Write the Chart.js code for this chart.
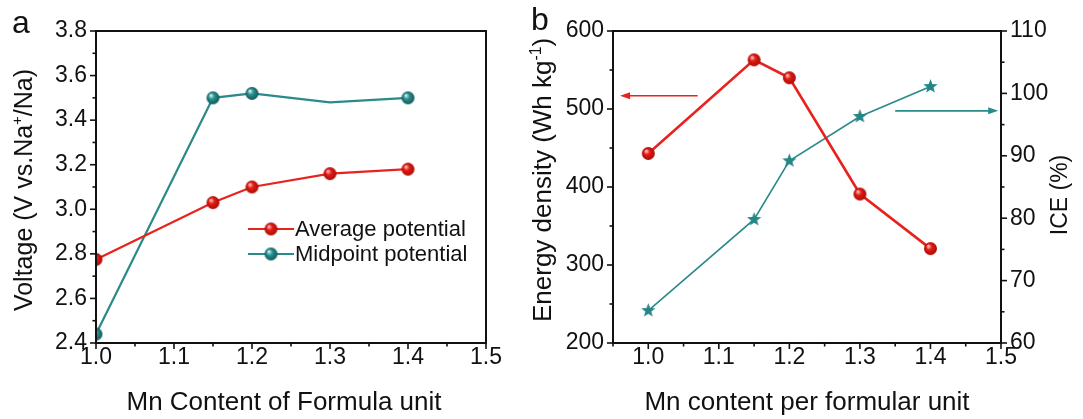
<!DOCTYPE html>
<html>
<head>
<meta charset="utf-8">
<script src="https://cdn.jsdelivr.net/npm/chart.js@4.4.1/dist/chart.umd.min.js"></script>
<style>
  html, body { margin: 0; padding: 0; background: #fff; }
  #wrap { position: relative; width: 1083px; height: 419px; overflow: hidden; }
  #wrapA { position: absolute; left: 0; top: 0; width: 520px; height: 419px; }
  #wrapB { position: absolute; left: 520px; top: 0; width: 563px; height: 419px; }
</style>
</head>
<body>
<div id="wrap">
  <div id="wrapA"><canvas id="chartA"></canvas></div>
  <div id="wrapB"><canvas id="chartB"></canvas></div>
</div>
<script>
// panel a: voltage vs Mn content
const mnA = [1.0, 1.15, 1.2, 1.3, 1.4];
const avgPotential = [2.775, 3.03, 3.10, 3.16, 3.18];
const midPotential = [2.44, 3.50, 3.52, 3.48, 3.50];
const midHasMarker = [true, true, true, false, true];

// panel b: energy density and ICE
const mnB = [1.0, 1.15, 1.2, 1.3, 1.4];
const energyDensity = [443, 563, 540, 391, 321];
const iceValues = [65.2, 79.8, 89.2, 96.3, 101.1];

// arrows pointing at the axis each series belongs to (data units)
const arrowEnergy = { y: 517, from: 1.07, to: 0.96 };
const arrowICE = { y: 97.2, from: 1.35, to: 1.496 };

const RED = "#e8231e";
const TEAL = "#2a8a8a";
const FONT = '"Liberation Sans", Arial, sans-serif';
const INK = "#111";

Chart.defaults.font.family = FONT;
Chart.defaults.color = INK;

function sphere(base, light, dark, r) {
  const c = document.createElement("canvas");
  c.width = c.height = 2 * r + 2;
  const g = c.getContext("2d");
  const m = r + 1;
  const grad = g.createRadialGradient(m - r * 0.35, m - r * 0.4, r * 0.08, m, m, r);
  grad.addColorStop(0, light);
  grad.addColorStop(0.4, base);
  grad.addColorStop(1, dark);
  g.fillStyle = grad;
  g.beginPath();
  g.arc(m, m, r, 0, Math.PI * 2);
  g.fill();
  return c;
}

function star(color, R) {
  const c = document.createElement("canvas");
  c.width = c.height = 2 * R + 2;
  const g = c.getContext("2d");
  const m = R + 1;
  g.fillStyle = color;
  g.beginPath();
  for (let i = 0; i < 10; i++) {
    const rr = i % 2 === 0 ? R : R * 0.42;
    const ang = -Math.PI / 2 + (i * Math.PI) / 5;
    const px = m + rr * Math.cos(ang);
    const py = m + rr * Math.sin(ang);
    i === 0 ? g.moveTo(px, py) : g.lineTo(px, py);
  }
  g.closePath();
  g.fill();
  return c;
}

const redBall = sphere("#e41a14", "#ffc2b8", "#a80d08", 6.5);
const tealBall = sphere("#2a9090", "#d0f2f2", "#135858", 6.5);
const tealStar = star("#268686", 7.5);

const isMajor = (v, step) => Math.abs(v / step - Math.round(v / step)) < 1e-6;

function richText(ctx, parts, x, y, size, rotate) {
  ctx.save();
  ctx.translate(x, y);
  if (rotate) ctx.rotate(-Math.PI / 2);
  const fnt = (s) => `${s}px ${FONT}`;
  let total = 0;
  parts.forEach((p) => {
    ctx.font = fnt(p.sup ? size * 0.6 : size);
    total += ctx.measureText(p.t).width;
  });
  let cx = -total / 2;
  ctx.textBaseline = "alphabetic";
  ctx.textAlign = "left";
  ctx.fillStyle = INK;
  parts.forEach((p) => {
    const s = p.sup ? size * 0.6 : size;
    ctx.font = fnt(s);
    ctx.fillText(p.t, cx, p.sup ? -size * 0.4 : 0);
    cx += ctx.measureText(p.t).width;
  });
  ctx.restore();
}

function arrow(ctx, x1, y, x2, color) {
  const dir = x2 > x1 ? 1 : -1;
  ctx.save();
  ctx.strokeStyle = color;
  ctx.fillStyle = color;
  ctx.lineWidth = 1.6;
  ctx.beginPath();
  ctx.moveTo(x1, y);
  ctx.lineTo(x2 - dir * 6, y);
  ctx.stroke();
  ctx.beginPath();
  ctx.moveTo(x2, y);
  ctx.lineTo(x2 - dir * 10, y - 3.5);
  ctx.lineTo(x2 - dir * 10, y + 3.5);
  ctx.closePath();
  ctx.fill();
  ctx.restore();
}

// box frame + major/minor tick marks drawn from the scale's own ticks
const frameTicks = {
  id: "frameTicks",
  afterDatasetsDraw(chart, args, opts) {
    const { ctx, chartArea: a } = chart;
    ctx.save();
    ctx.strokeStyle = INK;
    ctx.lineWidth = 2;
    ctx.strokeRect(a.left, a.top, a.right - a.left, a.bottom - a.top);
    ctx.lineWidth = 1.6;
    (opts.axes || []).forEach((ax) => {
      const s = chart.scales[ax.id];
      s.ticks.forEach((t) => {
        const len = isMajor(t.value, ax.major) ? 6 : 3.5;
        const p = s.getPixelForValue(t.value);
        ctx.beginPath();
        if (ax.side === "bottom") {
          ctx.moveTo(p, a.bottom);
          ctx.lineTo(p, a.bottom + len);
        } else if (ax.side === "left") {
          ctx.moveTo(a.left, p);
          ctx.lineTo(a.left - len, p);
        } else {
          ctx.moveTo(a.right, p);
          ctx.lineTo(a.right + len, p);
        }
        ctx.stroke();
      });
    });
    ctx.restore();
  },
};

const decorA = {
  id: "decorA",
  afterDraw(chart) {
    const { ctx, chartArea: a } = chart;
    ctx.save();
    ctx.fillStyle = INK;
    ctx.font = `32px ${FONT}`;
    ctx.textBaseline = "alphabetic";
    ctx.fillText("a", 12, 33);
    ctx.restore();
    richText(ctx, [{ t: "Voltage (V vs.Na" }, { t: "+", sup: true }, { t: "/Na)" }], 32, 190, 25, true);
    richText(ctx, [{ t: "Mn Content of Formula unit" }], 284, 410, 26, false);

    // legend: line with marker in the middle
    const rows = [
      { label: chart.data.datasets[0].label, color: RED, img: redBall, y: 229 },
      { label: chart.data.datasets[1].label, color: TEAL, img: tealBall, y: 254 },
    ];
    rows.forEach((r) => {
      ctx.save();
      ctx.strokeStyle = r.color;
      ctx.lineWidth = 2.2;
      ctx.beginPath();
      ctx.moveTo(248, r.y);
      ctx.lineTo(294, r.y);
      ctx.stroke();
      ctx.drawImage(r.img, 271 - r.img.width / 2, r.y - r.img.height / 2);
      ctx.fillStyle = INK;
      ctx.font = `22px ${FONT}`;
      ctx.textBaseline = "middle";
      ctx.fillText(r.label, 295, r.y + 1);
      ctx.restore();
    });
  },
};

const decorB = {
  id: "decorB",
  afterDraw(chart) {
    const { ctx, chartArea: a, scales } = chart;
    ctx.save();
    ctx.fillStyle = INK;
    ctx.font = `32px ${FONT}`;
    ctx.textBaseline = "alphabetic";
    ctx.fillText("b", 11, 30);
    ctx.restore();
    richText(ctx, [{ t: "Energy density (Wh kg" }, { t: "-1", sup: true }, { t: ")" }], 31, 180, 26, true);
    richText(ctx, [{ t: "ICE (%)" }], 547, 195, 23, true);
    richText(ctx, [{ t: "Mn content per formular unit" }], (a.left + a.right) / 2, 410, 26, false);

    const yE = scales.y.getPixelForValue(arrowEnergy.y);
    arrow(ctx, scales.x.getPixelForValue(arrowEnergy.from), yE, scales.x.getPixelForValue(arrowEnergy.to), RED);
    const yI = scales.y1.getPixelForValue(arrowICE.y);
    arrow(ctx, scales.x.getPixelForValue(arrowICE.from), yI, scales.x.getPixelForValue(arrowICE.to), TEAL);
  },
};

function xScale(min, max, height) {
  return {
    type: "linear",
    min: min,
    max: max,
    grid: { display: false, drawTicks: false },
    border: { display: false },
    ticks: {
      stepSize: 0.05,
      autoSkip: false,
      maxRotation: 0,
      padding: 3,
      font: { size: 23, lineHeight: 1 },
      callback: (v) => (isMajor(v, 0.1) ? v.toFixed(1) : ""),
    },
    afterFit: (s) => { s.height = height; },
  };
}

function yScale(min, max, step, major, digits, width, position) {
  return {
    type: "linear",
    position: position,
    min: min,
    max: max,
    grid: { display: false, drawTicks: false },
    border: { display: false },
    ticks: {
      stepSize: step,
      autoSkip: false,
      padding: 9,
      font: { size: 23, lineHeight: 1 },
      callback: (v) => (isMajor(v, major) ? v.toFixed(digits) : ""),
    },
    afterFit: (s) => { s.width = width; },
  };
}

const commonOpts = {
  responsive: true,
  maintainAspectRatio: false,
  animation: false,
  devicePixelRatio: 1,
  plugins: { legend: { display: false }, tooltip: { enabled: false } },
};

new Chart(document.getElementById("chartA"), {
  type: "line",
  data: {
    datasets: [
      {
        label: "Average potential",
        data: mnA.map((x, i) => ({ x: x, y: avgPotential[i] })),
        borderColor: RED,
        borderWidth: 2.2,
        pointStyle: redBall,
        pointRadius: 6,
        tension: 0,
      },
      {
        label: "Midpoint potential",
        data: mnA.map((x, i) => ({ x: x, y: midPotential[i] })),
        borderColor: TEAL,
        borderWidth: 2.2,
        pointStyle: tealBall,
        pointRadius: midHasMarker.map((m) => (m ? 6 : 0)),
        tension: 0,
      },
    ],
  },
  options: {
    ...commonOpts,
    layout: { padding: { top: 31, right: 34, left: 0, bottom: 0 } },
    scales: {
      x: xScale(1.0, 1.5, 76),
      y: yScale(2.4, 3.8, 0.1, 0.2, 1, 96, "left"),
    },
    plugins: {
      ...commonOpts.plugins,
      frameTicks: { axes: [{ id: "x", side: "bottom", major: 0.1 }, { id: "y", side: "left", major: 0.2 }] },
    },
  },
  plugins: [frameTicks, decorA],
});

new Chart(document.getElementById("chartB"), {
  type: "line",
  data: {
    datasets: [
      {
        label: "Energy density",
        data: mnB.map((x, i) => ({ x: x, y: energyDensity[i] })),
        borderColor: RED,
        borderWidth: 2.6,
        pointStyle: redBall,
        pointRadius: 6,
        tension: 0,
        yAxisID: "y",
      },
      {
        label: "ICE",
        data: mnB.map((x, i) => ({ x: x, y: iceValues[i] })),
        borderColor: TEAL,
        borderWidth: 1.6,
        pointStyle: tealStar,
        pointRadius: 6,
        tension: 0,
        yAxisID: "y1",
      },
    ],
  },
  options: {
    ...commonOpts,
    layout: { padding: { top: 31, right: 0, left: 0, bottom: 0 } },
    scales: {
      x: xScale(0.95, 1.5, 76),
      y: yScale(200, 600, 50, 100, 0, 93, "left"),
      y1: yScale(60, 110, 5, 10, 0, 82, "right"),
    },
    plugins: {
      ...commonOpts.plugins,
      frameTicks: {
        axes: [
          { id: "x", side: "bottom", major: 0.1 },
          { id: "y", side: "left", major: 100 },
          { id: "y1", side: "right", major: 10 },
        ],
      },
    },
  },
  plugins: [frameTicks, decorB],
});
</script>
</body>
</html>
